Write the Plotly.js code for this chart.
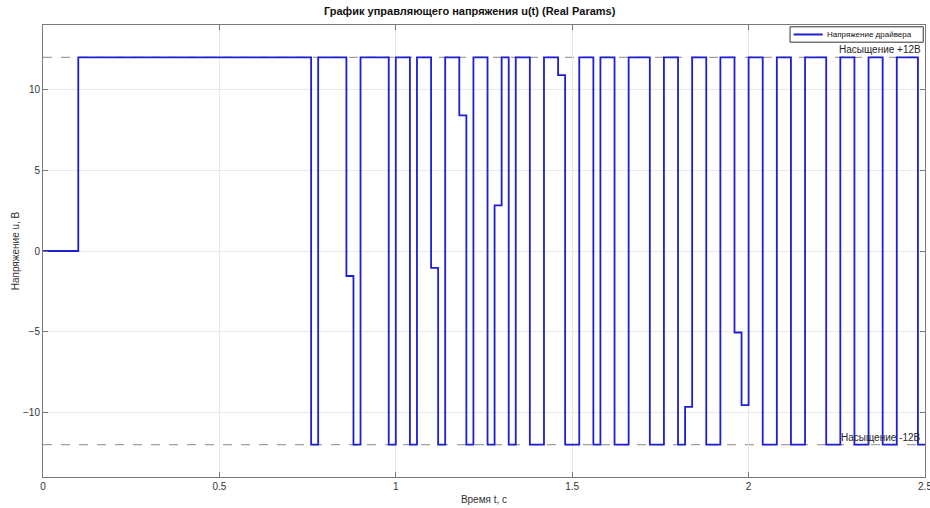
<!DOCTYPE html>
<html>
<head>
<meta charset="utf-8">
<script src="https://cdn.plot.ly/plotly-3.0.1.min.js"></script>
<style>
html,body{margin:0;padding:0;background:#fff;}
#chart{width:930px;height:508px;}
</style>
</head>
<body>
<div id="chart"></div>
<script>
// Switching instants (s) and the voltage held from each instant (V), zero-order hold
const switchTimes = [0, 0.10, 0.76, 0.78, 0.86, 0.88, 0.90, 0.98, 1.00, 1.04, 1.06, 1.10, 1.12, 1.14, 1.18, 1.20,
  1.22, 1.26, 1.28, 1.30, 1.32, 1.34, 1.38, 1.42, 1.46, 1.48, 1.52, 1.56, 1.58, 1.62, 1.66, 1.72,
  1.76, 1.80, 1.82, 1.84, 1.88, 1.92, 1.96, 1.98, 2.00, 2.04, 2.08, 2.12, 2.16, 2.22, 2.26, 2.30,
  2.34, 2.38, 2.42, 2.48, 2.50];
const voltageLevels = [0, 12, -12, 12, -1.55, -12, 12, -12, 12, -12, 12, -1.05, -12, 12, 8.4, -12,
  12, -12, 2.83, 12, -12, 12, -12, 12, 10.9, -12, 12, -12, 12, -12, 12, -12,
  12, -12, -9.65, 12, -12, 12, -5.05, -9.55, 12, -12, 12, -12, 12, -12, 12, -12,
  12, -12, 12, -12, -12];
const saturationLevels = [12, -12];
const saturationLabels = ['Насыщение +12В', 'Насыщение -12В'];
const seriesName = 'Напряжение драйвера';
const timeRange = [0, 2.5];
const voltageRange = [-14, 14];
const xTicks = [0, 0.5, 1, 1.5, 2, 2.5];
const xTickText = ['0', '0.5', '1', '1.5', '2', '2.5'];
const yTicks = [-10, -5, 0, 5, 10];

const font = 'Liberation Sans, Arial, sans-serif';
const lineColor = '#1e1ed2';

const traces = [{
  x: switchTimes,
  y: voltageLevels,
  type: 'scatter',
  mode: 'lines',
  line: {shape: 'hv', color: lineColor, width: 1.8},
  name: seriesName,
  showlegend: false
}];

const shapes = saturationLevels.map(v => ({
  type: 'line', xref: 'x', yref: 'y',
  x0: timeRange[0], x1: timeRange[1], y0: v, y1: v,
  line: {color: '#a0a0a0', width: 1.3, dash: 'dash'},
  layer: 'below'
}));

// compact legend box (MATLAB style) in paper coordinates
shapes.push({
  type: 'rect', xref: 'paper', yref: 'paper',
  x0: 0.847, x1: 0.998, y0: 0.962, y1: 0.996,
  line: {color: '#333', width: 1}, fillcolor: '#fff', layer: 'above'
});
shapes.push({
  type: 'line', xref: 'paper', yref: 'paper',
  x0: 0.851, x1: 0.884, y0: 0.979, y1: 0.979,
  line: {color: lineColor, width: 2}, layer: 'above'
});

const annotations = saturationLevels.map((v, i) => ({
  x: timeRange[1] - 0.005, y: v, xref: 'x', yref: 'y',
  text: saturationLabels[i], showarrow: false,
  xanchor: 'right', yanchor: 'bottom',
  font: {family: font, size: 10, color: '#262626'}
}));
annotations.push({
  x: 0.887, y: 0.979, xref: 'paper', yref: 'paper',
  text: seriesName, showarrow: false,
  xanchor: 'left', yanchor: 'middle',
  font: {family: font, size: 8, color: '#111'}
});

const axisCommon = {
  showgrid: true, gridcolor: '#e8e8e8', gridwidth: 1,
  zeroline: false,
  showline: true, linecolor: '#7a7a7a', linewidth: 1, mirror: 'ticks',
  ticks: 'inside', ticklen: 5, tickcolor: '#7a7a7a',
  ticklabeloverflow: 'allow',
  tickfont: {family: font, size: 10, color: '#333'}
};

const layout = {
  width: 930, height: 508,
  margin: {l: 43, r: 5, t: 25, b: 31},
  paper_bgcolor: '#fff', plot_bgcolor: '#fff',
  title: {text: '<b>График управляющего напряжения u(t) (Real Params)</b>',
          font: {family: font, size: 11, color: '#111'}, x: 0.505, xanchor: 'center', y: 0.985, yanchor: 'top'},
  xaxis: Object.assign({}, axisCommon, {
    range: timeRange, tickvals: xTicks, ticktext: xTickText,
    title: {text: 'Время t, с', font: {family: font, size: 10, color: '#333'}, standoff: 4}
  }),
  yaxis: Object.assign({}, axisCommon, {
    range: voltageRange, tickvals: yTicks,
    title: {text: 'Напряжение u, В', font: {family: font, size: 10, color: '#333'}, standoff: 1}
  }),
  showlegend: false,
  shapes: shapes,
  annotations: annotations
};

Plotly.newPlot('chart', traces, layout, {displayModeBar: false, staticPlot: true});
</script>
</body>
</html>
